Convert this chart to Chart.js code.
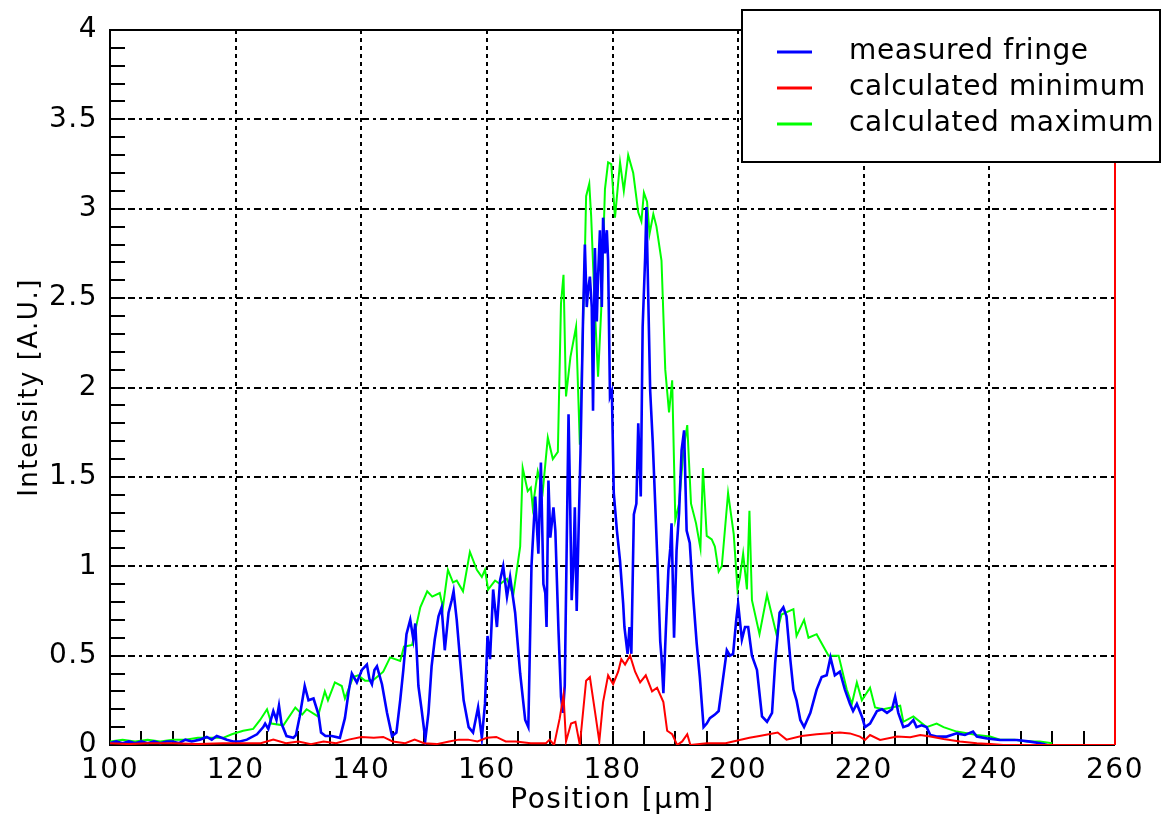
<!DOCTYPE html>
<html>
<head>
<meta charset="utf-8">
<script src="https://cdn.jsdelivr.net/npm/chart.js@4"></script>
<style>
    body { margin: 0; background: #fff; }
</style>
</head>
<body>
<canvas id="mainChart" width="1169" height="818"></canvas>
<script>
// values: position in um, intensity in A.U.
const fringeX = [
    100, 101, 102, 103, 104, 105, 106, 107, 108, 109,
    110, 111, 112, 113, 114.3, 115.4, 116.2, 117, 118.6, 119.6,
    120.7, 121.8, 123.4, 124.4, 124.7, 125.2, 126, 126.5, 126.9, 127.3,
    128.1, 129.2, 129.6, 130.2, 131, 131.6, 132.4, 133.2, 133.6, 134.3,
    135.3, 136.6, 137.4, 138, 138.5, 139.3, 140.1, 140.9, 141.3, 141.7,
    142.1, 142.5, 143.3, 144.1, 144.9, 145.6, 146.2, 146.7, 147.2, 147.8,
    148.3, 148.6, 149.1, 149.6, 150.2, 150.7, 151.2, 151.7, 152.3, 152.8,
    153.3, 153.9, 154.4, 154.7, 155.2, 155.8, 156.3, 157.1, 157.8, 158.6,
    159.2, 159.7, 160.1, 160.5, 161, 161.6, 162.1, 162.6, 163.2, 163.7,
    164.5, 165.3, 166.1, 166.6, 167.1, 167.7, 168.2, 168.6, 169, 169.3,
    169.5, 169.8, 170.1, 170.6, 170.9, 171.4, 171.8, 172.1, 172.4, 173,
    173.2, 173.5, 173.8, 174, 174.3, 174.6, 174.9, 175.3, 175.6, 175.9,
    176.1, 176.4, 176.7, 176.9, 177.2, 177.5, 177.7, 178, 178.3, 178.5,
    178.8, 179.1, 179.3, 179.6, 179.9, 180.2, 180.7, 181.2, 181.7, 181.9,
    182.4, 182.7, 183, 183.4, 183.8, 184.1, 184.5, 184.8, 185.2, 185.4,
    185.7, 186, 186.4, 186.8, 187.2, 187.6, 187.8, 188.1, 188.5, 188.9,
    189.2, 189.4, 189.8, 190.2, 190.6, 191, 191.4, 191.8, 192.3, 192.8,
    193.4, 193.9, 194.5, 195, 195.5, 196.3, 196.9, 197.4, 198.2, 198.7,
    199.2, 199.7, 200, 200.6, 201.1, 201.6, 202.2, 203, 203.8, 204.6,
    205.4, 205.9, 206.6, 207.2, 207.7, 208.3, 208.8, 209.3, 209.9, 210.5,
    211.5, 212.5, 213.3, 214.1, 214.7, 215.4, 216.2, 217, 217.8, 218.3,
    218.9, 219.7, 220.2, 221, 222.1, 222.9, 223.7, 224.5, 225, 225.5,
    226.3, 227.1, 227.9, 228.4, 229.2, 230, 230.6, 231.6, 233.2, 234.8,
    236.1, 237.4, 238, 239.6, 241.7, 244.4, 246.5, 248.1, 249.2
];
const fringeY = [
    0.01, 0.02, 0.01, 0.02, 0.01, 0.02, 0.01, 0.02, 0.01, 0.02,
    0.02, 0.01, 0.03, 0.02, 0.03, 0.045, 0.03, 0.05, 0.03, 0.02,
    0.02, 0.03, 0.06, 0.10, 0.12, 0.09, 0.19, 0.14, 0.22, 0.12,
    0.05, 0.04, 0.055, 0.16, 0.33, 0.25, 0.26, 0.17, 0.07, 0.05,
    0.05, 0.04, 0.15, 0.30, 0.40, 0.35, 0.42, 0.45, 0.37, 0.34,
    0.42, 0.44, 0.34, 0.18, 0.05, 0.07, 0.25, 0.42, 0.62, 0.70,
    0.59, 0.68, 0.33, 0.20, 0.03, 0.18, 0.44, 0.59, 0.72, 0.77,
    0.53, 0.74, 0.81, 0.86, 0.70, 0.45, 0.25, 0.10, 0.07, 0.21,
    0.04, 0.23, 0.61, 0.48, 0.87, 0.66, 0.92, 1.00, 0.83, 0.94,
    0.74, 0.40, 0.14, 0.10, 1.00, 1.39, 1.07, 1.58, 0.90, 0.85,
    0.66, 1.48, 1.16, 1.33, 1.20, 0.64, 0.27, 0.18, 0.33, 1.85,
    1.48, 0.81, 1.03, 1.33, 0.75, 1.20, 1.63, 2.37, 2.80, 2.45,
    2.54, 2.62, 2.45, 1.87, 2.78, 2.37, 2.62, 2.88, 2.45, 2.95,
    2.75, 2.88, 2.71, 1.95, 1.98, 1.41, 1.20, 1.03, 0.79, 0.66,
    0.51, 0.66, 0.51, 1.29, 1.35, 1.80, 1.39, 2.34, 2.73, 3.01,
    2.49, 1.98, 1.70, 1.35, 0.98, 0.58, 0.49, 0.29, 0.65, 0.98,
    1.10, 1.24, 0.60, 1.09, 1.30, 1.65, 1.76, 1.20, 1.13, 0.85,
    0.57, 0.38, 0.10, 0.12, 0.15, 0.17, 0.19, 0.32, 0.53, 0.50,
    0.51, 0.70, 0.79, 0.59, 0.66, 0.66, 0.50, 0.42, 0.16, 0.13,
    0.18, 0.46, 0.74, 0.77, 0.72, 0.48, 0.31, 0.25, 0.14, 0.10,
    0.18, 0.31, 0.38, 0.39, 0.49, 0.39, 0.41, 0.31, 0.23, 0.19,
    0.23, 0.16, 0.10, 0.12, 0.19, 0.20, 0.18, 0.20, 0.27, 0.18,
    0.10, 0.11, 0.14, 0.10, 0.11, 0.10, 0.056, 0.047, 0.047, 0.065,
    0.056, 0.075, 0.047, 0.037, 0.028, 0.028, 0.019, 0.01, 0.0
];

const minX = [
    100, 103, 106, 110, 114, 118, 121, 124, 126, 128,
    130, 132, 134, 136, 138, 140, 142, 143.5, 145, 147,
    148.5, 150, 152, 154, 155.5, 157, 158.5, 160, 161.5, 163,
    164.6, 167, 169.4, 170, 170.7, 171.6, 172.2, 172.6, 173.4, 174.1,
    174.8, 175.8, 176.4, 177.2, 177.9, 178.5, 179.3, 180.1, 180.9, 181.4,
    182, 182.8, 183.6, 184.4, 185.3, 186.3, 187.1, 188.1, 188.7, 189.5,
    190.3, 191.1, 191.9, 192.4, 195, 198, 201.8, 203.4, 206.3, 207.7,
    210.1, 212.5, 216.2, 217.8, 219.4, 220.2, 221, 222.6, 225.3, 227.4,
    229, 230.6, 232.7, 235.3, 238, 240.1, 242.2, 250, 260
];
const minY = [
    0.01, 0.005, 0.01, 0.01, 0.005, 0.01, 0.01, 0.01, 0.03, 0.01,
    0.02, 0.005, 0.02, 0.01, 0.03, 0.045, 0.04, 0.045, 0.02, 0.01,
    0.03, 0.01, 0.005, 0.02, 0.03, 0.03, 0.02, 0.04, 0.045, 0.02,
    0.02, 0.01, 0.01, 0.03, 0.0, 0.15, 0.28, 0.02, 0.12, 0.13,
    0.0, 0.36, 0.38, 0.19, 0.02, 0.24, 0.39, 0.34, 0.41, 0.48,
    0.45, 0.50, 0.41, 0.35, 0.39, 0.30, 0.32, 0.24, 0.08, 0.06,
    0.0, 0.02, 0.06, 0.0, 0.01, 0.01, 0.04, 0.05, 0.07, 0.03,
    0.05, 0.06, 0.07, 0.065, 0.047, 0.028, 0.056, 0.028, 0.047, 0.043,
    0.056, 0.047, 0.033, 0.019, 0.01, 0.005, 0.0, 0.0, 0.0
];

const maxX = [
    100, 102, 104, 106, 108, 110, 112, 114, 116, 118,
    119.4, 121.2, 122.8, 123.9, 125, 125.7, 127.6, 129.5, 130.6, 131.3,
    133.1, 134.2, 134.7, 135.8, 136.9, 137.4, 138.7, 139.5, 140.6, 141.8,
    143.5, 144.6, 146.2, 146.8, 148.1, 149.4, 150.5, 151.3, 152.5, 153,
    153.8, 154.6, 155.2, 156.2, 157.3, 158.4, 159.2, 159.7, 160.2, 161.3,
    162.1, 163.2, 164.2, 165.3, 165.7, 166.5, 167, 167.3, 168.1, 168.9,
    169.7, 170.5, 171.3, 171.8, 172.2, 172.6, 173.3, 174.2, 174.8, 175.6,
    175.8, 176.3, 176.6, 177.2, 177.7, 178.2, 178.8, 179.3, 179.8, 180.4,
    181.2, 181.8, 182.5, 183.3, 184.1, 184.6, 185, 185.5, 185.9, 186.5,
    187, 187.8, 188.4, 189, 189.5, 190, 190.6, 191.3, 191.9, 192.5,
    193.3, 194, 194.4, 195, 195.8, 196.3, 196.9, 197.4, 198.4, 199.3,
    199.9, 200.3, 200.8, 201.4, 201.8, 202.2, 203.4, 204.6, 206.1, 206.9,
    208.8, 209.3, 210.5, 211.2, 212.5, 213.6, 214.4, 216, 217.3, 218.1,
    218.9, 219.7, 221, 221.8, 223.1, 225.8, 226.3, 227.9, 230, 231.6,
    232.7, 234.8, 238, 240.1, 241.7, 244, 246, 248, 250
];
const maxY = [
    0.02, 0.03, 0.02, 0.03, 0.02, 0.03, 0.03, 0.04, 0.04, 0.04,
    0.06, 0.08, 0.09, 0.14, 0.20, 0.12, 0.11, 0.21, 0.17, 0.20,
    0.16, 0.30, 0.25, 0.35, 0.33, 0.26, 0.38, 0.39, 0.36, 0.36,
    0.41, 0.49, 0.47, 0.55, 0.56, 0.77, 0.86, 0.83, 0.85, 0.77,
    0.98, 0.91, 0.92, 0.86, 1.08, 0.98, 0.94, 0.98, 0.87, 0.92,
    0.90, 0.93, 0.84, 1.11, 1.55, 1.42, 1.44, 1.33, 1.53, 1.42,
    1.72, 1.60, 1.64, 2.47, 2.63, 1.95, 2.17, 2.34, 1.68, 2.74,
    3.07, 3.14, 2.96, 2.43, 2.06, 2.43, 3.11, 3.26, 3.25, 2.95,
    3.26, 3.10, 3.30, 3.20, 2.98, 2.93, 3.09, 3.04, 2.86, 2.97,
    2.90, 2.71, 2.10, 1.86, 2.04, 1.26, 1.35, 1.65, 1.79, 1.35,
    1.24, 1.10, 1.55, 1.17, 1.15, 1.11, 0.97, 1.00, 1.41, 1.18,
    0.87, 0.94, 1.07, 0.87, 1.31, 0.81, 0.62, 0.84, 0.62, 0.73,
    0.76, 0.61, 0.70, 0.60, 0.62, 0.55, 0.50, 0.50, 0.31, 0.23,
    0.35, 0.25, 0.32, 0.21, 0.20, 0.22, 0.13, 0.16, 0.10, 0.12,
    0.10, 0.075, 0.056, 0.047, 0.03, 0.03, 0.02, 0.02, 0.01
];

const seriesNames = ['measured fringe', 'calculated minimum', 'calculated maximum'];
const xTickValues = [100, 120, 140, 160, 180, 200, 220, 240, 260];
const yTickValues = [0, 0.5, 1, 1.5, 2, 2.5, 3, 3.5, 4];

const FONT = '"DejaVu Sans", sans-serif';

function toPoints(xs, ys) {
    return xs.map((x, i) => ({ x: x, y: ys[i] }));
}

// the reference text is spaced out a little
const spacing = {
    id: 'spacing',
    beforeUpdate(chart) {
        chart.ctx.letterSpacing = '1.5px';
    },
    beforeDraw(chart) {
        chart.ctx.letterSpacing = '1.5px';
    },
};

// inward minor ticks and the plot frame, under the data
const frame = {
    id: 'frame',
    beforeDatasetsDraw(chart) {
        const ctx = chart.ctx;
        const a = chart.chartArea;
        const xs = chart.scales.x;
        const ys = chart.scales.y;
        ctx.save();
        ctx.strokeStyle = '#000';
        ctx.lineWidth = 2;
        ctx.beginPath();
        for (let v = xs.min; v <= xs.max; v += 5) {
            const px = Math.round(xs.getPixelForValue(v));
            ctx.moveTo(px, a.bottom);
            ctx.lineTo(px, a.bottom - 14);
        }
        for (let i = 0; i <= 40; i++) {
            const py = Math.round(ys.getPixelForValue(i / 10));
            ctx.moveTo(a.left, py);
            ctx.lineTo(a.left + 15, py);
        }
        ctx.stroke();

        ctx.beginPath();
        ctx.moveTo(a.right, a.top);
        ctx.lineTo(a.left, a.top);
        ctx.lineTo(a.left, a.bottom);
        ctx.lineTo(a.right, a.bottom);
        ctx.stroke();
        ctx.strokeStyle = '#ff0000';
        ctx.beginPath();
        ctx.moveTo(a.right, a.top);
        ctx.lineTo(a.right, a.bottom);
        ctx.stroke();
        ctx.restore();
    },
};

// boxed legend in the top right corner
const legendBox = {
    id: 'legendBox',
    afterDraw(chart) {
        const ctx = chart.ctx;
        ctx.save();
        ctx.fillStyle = '#fff';
        ctx.fillRect(742, 10, 418, 152);
        ctx.strokeStyle = '#000';
        ctx.lineWidth = 2;
        ctx.strokeRect(742, 10, 418, 152);
        ctx.font = '28px ' + FONT;
        ctx.letterSpacing = '0.6px';
        ctx.textBaseline = 'middle';
        chart.data.datasets.forEach((ds, i) => {
            const y = 52 + i * 36;
            ctx.strokeStyle = ds.borderColor;
            ctx.lineWidth = 3;
            ctx.beginPath();
            ctx.moveTo(777, y);
            ctx.lineTo(812, y);
            ctx.stroke();
            ctx.fillStyle = '#000';
            ctx.fillText(ds.label, 849, y);
        });
        ctx.restore();
    },
};

const ctx = document.getElementById('mainChart').getContext('2d');
const config = {
    type: 'line',
    data: {
        datasets: [
            {
                label: seriesNames[0],
                data: toPoints(fringeX, fringeY),
                borderColor: '#0000ff',
                borderWidth: 2.6,
                order: 1,
            },
            {
                label: seriesNames[1],
                data: toPoints(minX, minY),
                borderColor: '#ff0000',
                borderWidth: 2,
                order: 0,
            },
            {
                label: seriesNames[2],
                data: toPoints(maxX, maxY),
                borderColor: '#00ff00',
                borderWidth: 2,
                order: 2,
            },
        ],
    },
    options: {
        responsive: false,
        animation: false,
        events: [],
        elements: {
            point: { radius: 0 },
            line: { tension: 0 },
        },
        layout: {
            padding: { top: 30, right: 54, left: 0, bottom: 0 },
        },
        plugins: {
            legend: { display: false },
            tooltip: { enabled: false },
        },
        scales: {
            x: {
                type: 'linear',
                min: 100,
                max: 260,
                afterBuildTicks: (axis) => {
                    axis.ticks = xTickValues.map((v) => ({ value: v }));
                },
                afterFit: (axis) => {
                    axis.height = 73;
                },
                grid: { color: '#000', lineWidth: 2, drawTicks: false },
                border: { display: false, dash: [4, 4] },
                ticks: {
                    color: '#000',
                    font: { family: FONT, size: 28 },
                    padding: 9,
                    maxRotation: 0,
                    autoSkip: false,
                },
                title: {
                    display: true,
                    text: 'Position [\u03bcm]',
                    color: '#000',
                    font: { family: FONT, size: 28 },
                    padding: 0,
                },
            },
            y: {
                min: 0,
                max: 4,
                afterBuildTicks: (axis) => {
                    axis.ticks = yTickValues.map((v) => ({ value: v }));
                },
                afterFit: (axis) => {
                    axis.width = 110;
                },
                grid: { color: '#000', lineWidth: 2, drawTicks: false },
                border: { display: false, dash: [7, 4, 3, 4] },
                ticks: {
                    color: '#000',
                    font: { family: FONT, size: 28 },
                    padding: 12,
                    callback: (v) => String(v),
                },
                title: {
                    display: true,
                    text: 'Intensity [A.U.]',
                    color: '#000',
                    font: { family: FONT, size: 26 },
                    padding: 15,
                },
            },
        },
    },
    plugins: [spacing, frame, legendBox],
};

var chart = new Chart(ctx, config);
</script>
</body>
</html>
